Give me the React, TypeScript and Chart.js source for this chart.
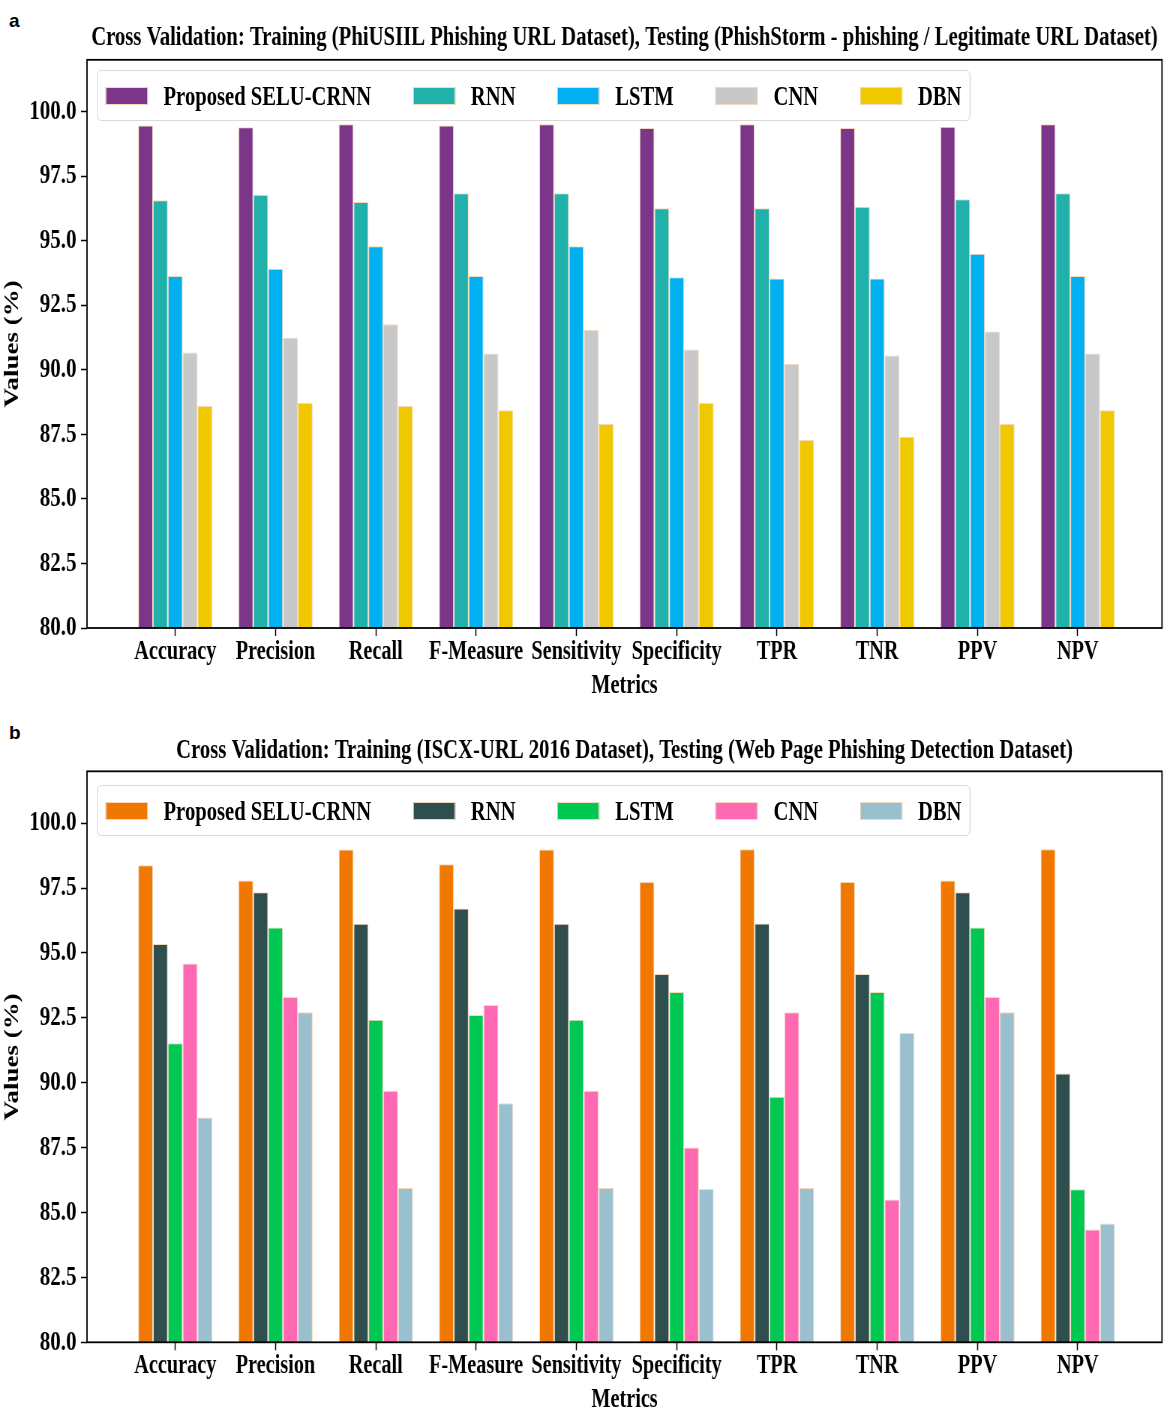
import React, { useEffect, useRef } from "react";
import { Chart, registerables } from "chart.js";

Chart.register(...registerables);

// ---- data ----
const metrics = [
  "Accuracy",
  "Precision",
  "Recall",
  "F-Measure",
  "Sensitivity",
  "Specificity",
  "TPR",
  "TNR",
  "PPV",
  "NPV",
];
const models = ["Proposed SELU-CRNN", "RNN", "LSTM", "CNN", "DBN"];
const yTicks = [80, 82.5, 85, 87.5, 90, 92.5, 95, 97.5, 100];

// panel a: PhiUSIIL -> PhishStorm
const proposedA = [99.46, 99.39, 99.51, 99.46, 99.51, 99.36, 99.51, 99.36, 99.41, 99.51];
const rnnA = [96.56, 96.78, 96.49, 96.83, 96.83, 96.25, 96.25, 96.31, 96.6, 96.83];
const lstmA = [93.63, 93.91, 94.78, 93.63, 94.78, 93.58, 93.53, 93.53, 94.49, 93.63];
const cnnA = [90.67, 91.24, 91.76, 90.63, 91.54, 90.78, 90.22, 90.55, 91.48, 90.63];
const dbnA = [88.6, 88.71, 88.6, 88.43, 87.9, 88.71, 87.28, 87.41, 87.9, 88.43];

// panel b: ISCX-URL 2016 -> Web Page Phishing Detection
const proposedB = [98.38, 97.79, 98.99, 98.42, 98.99, 97.74, 99.0, 97.74, 97.79, 99.0];
const rnnB = [95.35, 97.34, 96.13, 96.71, 96.13, 94.19, 96.14, 94.19, 97.34, 90.36];
const lstmB = [91.52, 95.98, 92.43, 92.61, 92.43, 93.5, 89.46, 93.5, 95.98, 85.9];
const cnnB = [94.6, 93.3, 89.69, 93.0, 89.69, 87.51, 92.72, 85.5, 93.3, 84.35];
const dbnB = [88.66, 92.72, 85.95, 89.21, 85.95, 85.91, 85.95, 91.92, 92.72, 84.58];

const colorsA = ["#7b3589", "#20b2aa", "#00b0f0", "#c8c8c8", "#f0c800"];
const colorsB = ["#f07800", "#2f4f4f", "#00c853", "#ff69b4", "#9abfcf"];

const titleA =
  "Cross Validation: Training (PhiUSIIL Phishing URL Dataset), Testing (PhishStorm - phishing / Legitimate URL Dataset)";
const titleB =
  "Cross Validation: Training (ISCX-URL 2016 Dataset), Testing (Web Page Phishing Detection Dataset)";

// ---- layout ----
const SX = 0.75; // the original figure is squeezed horizontally
const CW = 1170 / SX;
const CH = 712;
const FONT = "'Liberation Serif', 'Times New Roman', serif";
const EDGE = "#f3d8be";

type Series = { label: string; color: string; values: number[] };

interface PanelProps {
  tag: string;
  top: number;
  title: string;
  titleSize: number;
  series: Series[];
  titlePad: { top: number; bottom: number };
  xAxisHeight: number;
  xTitlePad: number;
  legendTop: number;
}

const framePlugin = {
  id: "frame",
  afterDraw(chart: Chart) {
    const { ctx, chartArea: a } = chart;
    ctx.save();
    ctx.strokeStyle = "#000";
    ctx.lineWidth = 1.8;
    ctx.strokeRect(a.left, a.top, a.right - a.left, a.bottom - a.top);
    ctx.restore();
  },
};

const Panel: React.FC<PanelProps> = ({
  tag,
  top,
  title,
  titleSize,
  series,
  titlePad,
  xAxisHeight,
  xTitlePad,
  legendTop,
}) => {
  const canvasRef = useRef<HTMLCanvasElement>(null);
  const chartRef = useRef<Chart | null>(null);

  useEffect(() => {
    const ctx = canvasRef.current?.getContext("2d");
    if (!ctx) return;
    if (chartRef.current) chartRef.current.destroy();

    chartRef.current = new Chart(ctx, {
      type: "bar",
      data: {
        datasets: series.map((s) => ({
          label: s.label,
          data: s.values.map((v, i) => ({ x: i, y: v })),
          backgroundColor: s.color,
          borderColor: EDGE,
          borderWidth: 1,
          categoryPercentage: 0.74,
          barPercentage: 1,
        })),
      },
      options: {
        responsive: false,
        animation: false,
        layout: { padding: { left: 0, right: 10.7, top: 0, bottom: 0 } },
        plugins: {
          legend: { display: false },
          tooltip: { enabled: false },
          title: {
            display: true,
            text: title,
            fullSize: false,
            color: "#000",
            font: { family: FONT, size: titleSize, weight: "bold" },
            padding: titlePad,
          },
        },
        scales: {
          x: {
            type: "linear",
            min: -0.88,
            max: 9.84,
            offset: false,
            afterBuildTicks: (s: any) => {
              s.ticks = metrics.map((_, i) => ({ value: i }));
            },
            afterFit: (s: any) => {
              s.height = xAxisHeight;
            },
            grid: {
              display: true,
              drawOnChartArea: false,
              drawTicks: true,
              tickLength: 8,
              tickColor: "#000",
              tickWidth: 1.5,
              offset: false,
            },
            border: { display: false },
            ticks: {
              autoSkip: false,
              maxRotation: 0,
              padding: 0,
              color: "#000",
              font: { family: FONT, size: 27, weight: "bold" },
              callback: (v: any) => metrics[Number(v)] ?? "",
            },
            title: {
              display: true,
              text: "Metrics",
              color: "#000",
              font: { family: FONT, size: 27, weight: "bold" },
              padding: { top: 0, bottom: xTitlePad },
            },
          },
          y: {
            type: "linear",
            min: 80,
            max: 102,
            afterBuildTicks: (s: any) => {
              s.ticks = yTicks.map((v) => ({ value: v }));
            },
            afterFit: (s: any) => {
              s.width = 116;
            },
            grid: {
              display: true,
              drawOnChartArea: false,
              drawTicks: true,
              tickLength: 8,
              tickColor: "#000",
              tickWidth: 1.5,
            },
            border: { display: false },
            ticks: {
              padding: 6,
              color: "#000",
              font: { family: FONT, size: 28, weight: "bold" },
              callback: (v: any) => Number(v).toFixed(1),
            },
            title: {
              display: true,
              text: "Values (%)",
              color: "#000",
              font: { family: FONT, size: 27, weight: "bold", lineHeight: 1.25 },
              padding: 0,
            },
          },
        },
      },
      plugins: [framePlugin],
    } as any);

    return () => {
      if (chartRef.current) {
        chartRef.current.destroy();
        chartRef.current = null;
      }
    };
  }, [series, title, titleSize]);

  return (
    <>
      <div
        style={{
          position: "absolute",
          left: 9,
          top: top + 10,
          font: "bold 19px 'Liberation Sans', Arial, sans-serif",
          color: "#000",
        }}
      >
        {tag}
      </div>
      <div
        style={{
          position: "absolute",
          left: 0,
          top,
          width: CW,
          height: CH,
          transform: `scaleX(${SX})`,
          transformOrigin: "0 0",
        }}
      >
        <canvas
          ref={canvasRef}
          width={CW}
          height={CH}
          style={{ display: "block", width: CW, height: CH }}
        />
        <div
          style={{
            position: "absolute",
            left: 129,
            top: legendTop,
            height: 51,
            boxSizing: "border-box",
            display: "flex",
            alignItems: "center",
            padding: "0 11px",
            border: "1.5px solid #d4d4d4",
            borderRadius: 6,
            background: "rgba(255,255,255,0.85)",
          }}
        >
          {series.map((s, i) => (
            <div
              key={s.label}
              style={{ display: "flex", alignItems: "center", marginLeft: i ? 56 : 0 }}
            >
              <span
                style={{
                  display: "inline-block",
                  width: 56,
                  height: 18,
                  background: s.color,
                  border: `1px solid ${EDGE}`,
                  boxSizing: "border-box",
                  marginRight: 21,
                }}
              />
              <span
                style={{
                  fontFamily: FONT,
                  fontWeight: "bold",
                  fontSize: 27.5,
                  lineHeight: 1,
                  color: "#000",
                  whiteSpace: "nowrap",
                }}
              >
                {s.label}
              </span>
            </div>
          ))}
        </div>
      </div>
    </>
  );
};

const valuesA = [proposedA, rnnA, lstmA, cnnA, dbnA];
const valuesB = [proposedB, rnnB, lstmB, cnnB, dbnB];
const seriesA: Series[] = models.map((m, i) => ({ label: m, color: colorsA[i], values: valuesA[i] }));
const seriesB: Series[] = models.map((m, i) => ({ label: m, color: colorsB[i], values: valuesB[i] }));

export default function App() {
  return (
    <div
      style={{
        position: "absolute",
        left: 0,
        top: 0,
        width: 1170,
        height: 1414,
        overflow: "hidden",
        background: "#fff",
      }}
    >
      <Panel
        tag="a"
        top={0}
        title={titleA}
        titleSize={27.6}
        series={seriesA}
        titlePad={{ top: 21.2, bottom: 5.5 }}
        xAxisHeight={84}
        xTitlePad={9.8}
        legendTop={70}
      />
      <Panel
        tag="b"
        top={712}
        title={titleB}
        titleSize={27.6}
        series={seriesB}
        titlePad={{ top: 22.6, bottom: 3.6 }}
        xAxisHeight={81.7}
        xTitlePad={7.8}
        legendTop={73}
      />
    </div>
  );
}
